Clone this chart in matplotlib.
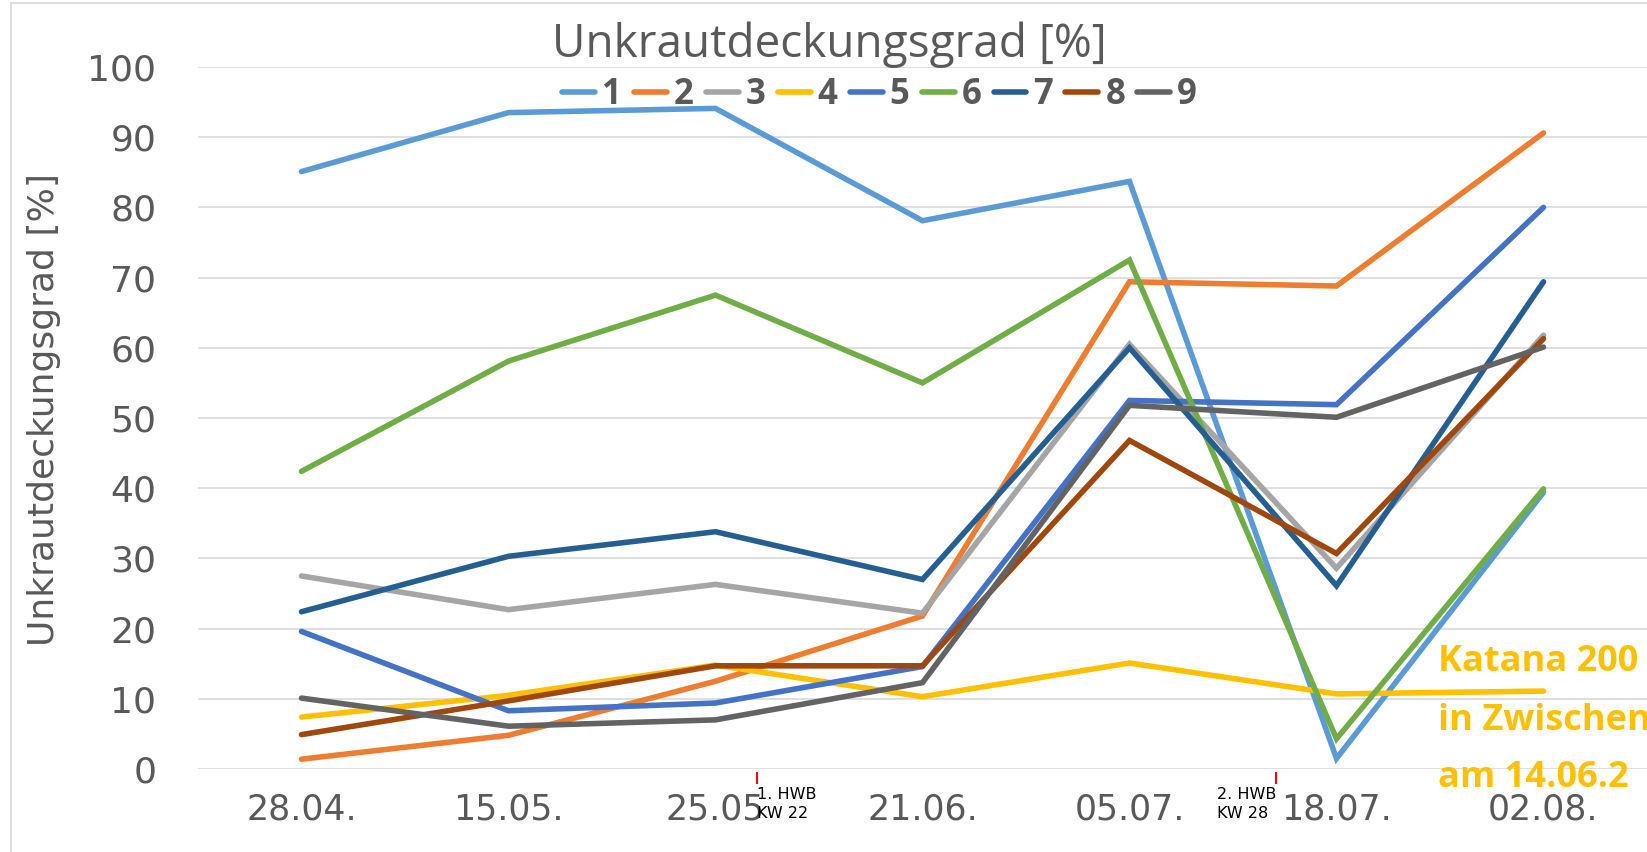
from matplotlib import pyplot as plt
from matplotlib.lines import Line2D

# Termine (Boniturdaten)
dates = ['28.04.', '15.05.', '25.05', '21.06.', '05.07.', '18.07.', '02.08.']

# Unkrautdeckungsgrad [%] je Variante
v1 = [85.1, 93.5, 94.1, 78.1, 83.7, 1.5, 39.4]
v2 = [1.4, 4.8, 12.5, 21.8, 69.4, 68.8, 90.6]
v3 = [27.5, 22.7, 26.3, 22.2, 60.5, 28.6, 61.8]
v4 = [7.4, 10.5, 14.8, 10.3, 15.1, 10.7, 11.1]
v5 = [19.6, 8.3, 9.4, 14.6, 52.5, 51.9, 80.0]
v6 = [42.4, 58.1, 67.5, 55.0, 72.5, 4.3, 39.9]
v7 = [22.4, 30.3, 33.8, 27.0, 60.0, 26.1, 69.4]
v8 = [4.9, 9.7, 14.7, 14.7, 46.8, 30.7, 61.3]
v9 = [10.1, 6.1, 7.0, 12.3, 51.8, 50.1, 60.1]

labels = ['1', '2', '3', '4', '5', '6', '7', '8', '9']
series = [v1, v2, v3, v4, v5, v6, v7, v8, v9]
colors = ['#5B9BD5', '#ED7D31', '#A5A5A5', '#FFC000', '#4472C4',
          '#70AD47', '#255E91', '#9E480E', '#636363']

# Herbizid-Termine (HWB) auf der Zeitachse
hwb_x = [2.2, 4.71]
hwb_text = ['1. HWB\nKW 22', '2. HWB\nKW 28']

# Hinweis, am rechten Bildrand abgeschnitten wie im Original
katana_lines = ['Katana 200', 'in Zwischen', 'am 14.06.2']

grey = '#595959'

fig = plt.figure(figsize=(16.47, 8.52), dpi=100)
ax = fig.add_axes([0.1202, 0.0974, 0.8798, 0.824])

x = range(len(dates))
for lab, ys, c in zip(labels, series, colors):
	ax.plot(x, ys, color=c, lw=4.0, label=lab, solid_capstyle='round', solid_joinstyle='miter')

ax.set_xlim(-0.5, len(dates) - 0.5)
ax.set_ylim(0, 100)
ax.set_yticks(range(0, 101, 10))
ax.set_xticks(list(x))
ax.set_xticklabels(dates)
ax.grid(axis='y', color='#D9D9D9', lw=1.2)
ax.set_axisbelow(True)
for s in ax.spines.values():
	s.set_visible(False)
ax.tick_params(axis='both', length=0, labelsize=25, labelcolor=grey)
ax.tick_params(axis='y', labelsize=26, pad=30)
ax.tick_params(axis='x', pad=17)

# rote Markierungen + Beschriftung
for i, (hx, t) in enumerate(zip(hwb_x, hwb_text)):
	ax.plot([hx, hx], [-0.5, -2.0], color='red', lw=1.5, clip_on=False)
	ax.text(hx, -2.6, t, fontsize=11.5, color='black', va='top',
			ha='left' if i == 0 else 'right', multialignment='left',
			linespacing=1.3, clip_on=False)

# Katana-Hinweis
for yy, t in zip([13.9, 5.6, -2.5], katana_lines):
	ax.text(5.49, yy, t, fontsize=26, fontweight='bold', color='#FFC000',
			family='Open Sans', va='baseline', ha='left', clip_on=False)

fig.text(0.5035, 0.947, 'Unkrautdeckungsgrad [%]', fontsize=33, color=grey,
		 family='Open Sans', ha='center', va='center')

handles = [Line2D([0], [0], color=c, lw=4.0, solid_capstyle='round') for c in colors]
leg = fig.legend(handles, labels, loc='center', bbox_to_anchor=(0.534, 0.888),
				 ncol=9, frameon=False, handlelength=0.95, handletextpad=0.2,
				 columnspacing=0.35, prop={'family': 'Open Sans', 'weight': 'bold', 'size': 25})
for t in leg.get_texts():
	t.set_color(grey)

fig.text(0.0267, 0.519, 'Unkrautdeckungsgrad [%]', rotation=90, fontsize=26,
		 color=grey, ha='center', va='center')

# Rahmen des Diagrammbereichs
fig.add_artist(Line2D([0.0065, 0.0065], [0, 0.997], color='#D9D9D9', lw=1.2, transform=fig.transFigure))
fig.add_artist(Line2D([0.0065, 1], [0.997, 0.997], color='#D9D9D9', lw=1.2, transform=fig.transFigure))

fig.savefig('out.png', dpi=100)
